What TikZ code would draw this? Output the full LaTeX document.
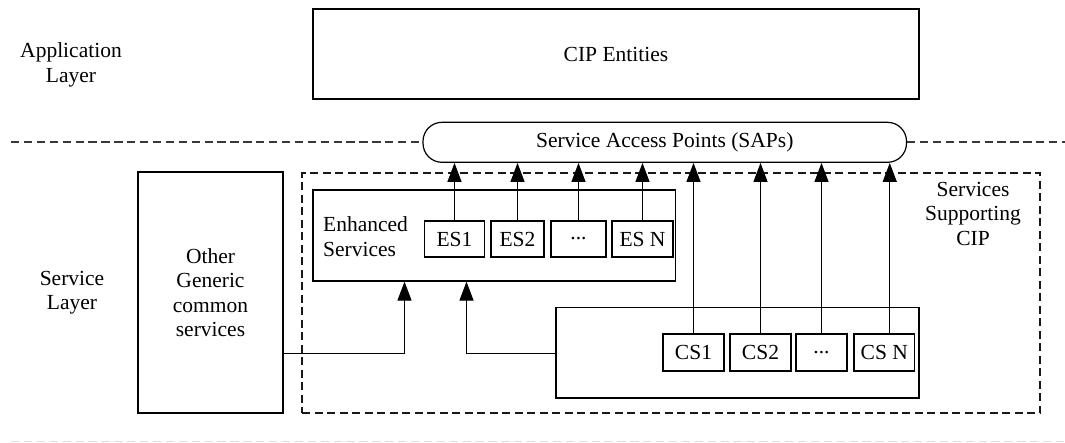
\documentclass[tikz,border=0pt]{standalone}
\usepackage{fontspec}
\setmainfont{Liberation Serif}
\usetikzlibrary{arrows.meta}
\begin{document}
\begin{tikzpicture}[x=1pt,y=-1pt,
  font=\fontsize{21.5}{24.5}\selectfont,
  lw/.style={line width=1.2pt},
  box/.style={draw, lw, inner sep=0pt, align=center},
  txt/.style={inner sep=0pt, align=center},
  dl/.style={line width=1.7pt, draw=black!78, dash pattern=on 8.3pt off 4.6pt},
  fl/.style={lw, draw=black!90, dash pattern=on 8pt off 4.5pt},
  arr/.style={lw, -{Triangle[length=19pt,width=14pt]}}]
\useasboundingbox (0,0) rectangle (1065,442);
% layer texts
\node[txt] (app) at (71,65) {Application\\Layer};
\node[txt] (svl) at (72,292.5) {Service\\Layer};
% top box
\node[box, minimum width=606pt, minimum height=90pt] (cip) at (616,54) {CIP Entities};
% SAP
\node[box, rounded corners=19pt, minimum width=483.5pt, minimum height=40pt] (sap) at (664.75,142.3) {Service Access Points (SAPs)};
\coordinate (l0) at (11,142.3);
\coordinate (r0) at (1065,142.3);
\draw[dl] (l0) -- (sap.west);
\draw[dl] (sap.east) -- (r0);
% bottom faint line
\coordinate (l1) at (11,441.4);
\coordinate (r1) at (1065,441.4);
\draw[line width=1.5pt, draw=black!13, dash pattern=on 8.3pt off 4.6pt] (l1) -- (r1);
% services supporting frame
\node[draw, fl, minimum width=738pt, minimum height=240pt, inner sep=0pt] (frame) at (671,293) {};
\node[txt] (ssc) at (973,213.5) {Services\\Supporting\\CIP};
% other generic
\node[box, minimum width=145pt, minimum height=241pt] (other) at (210.5,292.5) {Other\\Generic\\common\\services};
% enhanced
\node[box, minimum width=362.5pt, minimum height=91pt] (enh) at (494.25,235.5) {};
\node[txt, anchor=west, align=left] (enht) at (323,236.5) {Enhanced\\Services};
\node[box, minimum width=60pt, minimum height=36pt] (es1) at (454.5,239) {ES1};
\node[box, minimum width=53pt, minimum height=36pt] (es2) at (517.5,239) {ES2};
\node[box, minimum width=55pt, minimum height=36pt] (esd) at (578.5,239) {...};
\node[box, minimum width=61pt, minimum height=36pt] (esn) at (642.5,239) {ES N};
% common services container
\node[box, minimum width=363pt, minimum height=90.5pt] (csb) at (737.5,352.75) {};
\node[box, minimum width=61pt, minimum height=37pt] (cs1) at (693.5,352.5) {CS1};
\node[box, minimum width=61pt, minimum height=37pt] (cs2) at (760.5,352.5) {CS2};
\node[box, minimum width=51pt, minimum height=37pt] (csd) at (821.5,352.5) {...};
\node[box, minimum width=60.5pt, minimum height=37pt] (csn) at (884.25,352.5) {CS N};
% arrows to SAP
\foreach \n in {es1,es2,esd,esn,cs1,cs2,csd}{
  \draw[arr] (\n.north) -- (\n.north |- sap.south);
}
\draw[arr] ([xshift=5.5pt]csn.north) -- ([xshift=5.5pt]csn.north |- sap.south);
% arrows to enhanced
\coordinate (j1) at (404.5,353.5);
\coordinate (j2) at (466.5,353.5);
\draw[arr] (other.east |- j1) -| (enh.south -| j1);
\draw[arr] (csb.west |- j2) -| (enh.south -| j2);
\end{tikzpicture}
\end{document}
